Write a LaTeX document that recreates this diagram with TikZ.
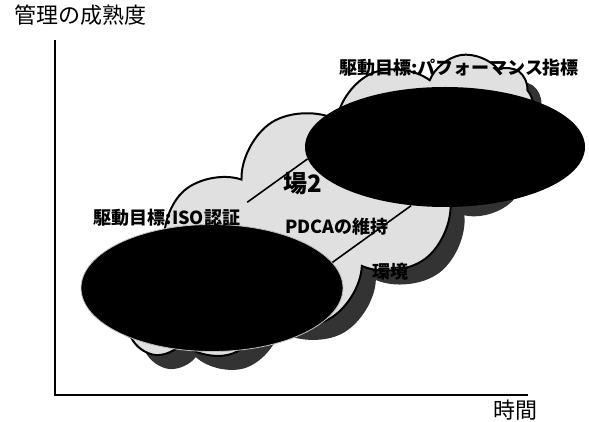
\documentclass[tikz,border=0pt]{standalone}
\usepackage{fontspec}
\setmainfont{Noto Sans CJK JP}
\usetikzlibrary{shapes.geometric,shapes.symbols}

\begin{document}
\begin{tikzpicture}[x=0.5pt,y=0.5pt,
  lbl/.style={font=\bfseries\fontsize{9}{11}\selectfont},
  axlbl/.style={font=\fontsize{11}{13}\selectfont},
  ring/.style={ellipse,fill=black,inner sep=0pt},
  puff/.style={cloud,cloud puffs=13,cloud puff arc=120,cloud ignores aspect,minimum width=238pt,minimum height=100pt,rotate=32}]
%\draw [help lines,step=50] (0,0) grid (589,422);
\useasboundingbox (0,0) rectangle (589,422);
\node [puff,fill=black!80] (shade) at (339,201) {};
\node [puff,fill=black!12,draw,line width=1pt] (field) at (325,215) {};
\node [ring,minimum width=131pt,minimum height=63.5pt,draw=black!25] (iso) at (212,134) {};
\node [ring,minimum width=140pt,minimum height=60pt] (perf) at (445,275) {};
\node [lbl] (isotxt) at (167,204) {駆動目標:ISO認証};
\draw [line width=0.8pt] (isotxt.north east) -- (perf.185); \draw [line width=0.8pt] (iso.12) -- (perf.240);
\node [lbl] (perftxt) at (459,354) {駆動目標:パフォーマンス指標};
\node [font=\bfseries\fontsize{12}{14}\selectfont] (ba) at (303,238) {場2};
\node [lbl] (pdca) at (337,195) {PDCAの維持};
\node [lbl] (env) at (390,150) {環境};
\coordinate (O) at (55,27); \coordinate (ytop) at (55,382); \coordinate (xend) at (528,27);
\draw [line width=0.8pt] (ytop) -- (O) -- (xend);
\node [axlbl] (ylab) at (80,407) {管理の成熟度}; \node [axlbl] (xlab) at (515,12) {時間};
\end{tikzpicture}
\end{document}
